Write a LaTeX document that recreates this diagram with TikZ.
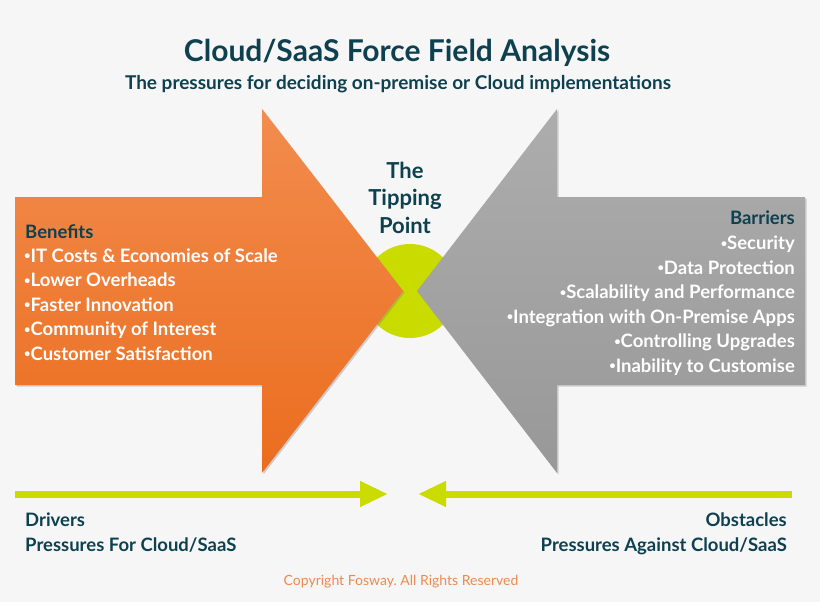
\documentclass[tikz,border=0pt]{standalone}
\usepackage{fontspec}
\usepackage{graphicx}
\setmainfont{Lato}
\usetikzlibrary{arrows.meta,shadows}
\definecolor{ffback}{HTML}{F6F6F6}
\definecolor{ffteal}{HTML}{0E4150}
\definecolor{fflime}{HTML}{CADB00}
\definecolor{fforangetop}{HTML}{F28C4E}
\definecolor{fforangebot}{HTML}{EB6D1E}
\definecolor{ffgreytop}{HTML}{ADADAD}
\definecolor{ffgreybot}{HTML}{989898}
\definecolor{ffcopy}{HTML}{F08A4B}
\newcommand{\ffbullet}{\raisebox{.12em}{\scalebox{.6}{•}}}

\begin{document}
\begin{tikzpicture}[x=1pt,y=-1pt,>=Latex,
  bigarrow/.style={drop shadow={shadow xshift=1.5pt,shadow yshift=-1.5pt,opacity=.35}},
  force/.style={line width=7pt,draw=fflime,-{Triangle[length=28pt,width=24pt]}},
  heading/.style={text=ffteal,font=\bfseries\fontsize{18.5}{24.5}\selectfont,inner sep=0pt},
  items/.style={text=white,font=\bfseries\fontsize{18.5}{24.5}\selectfont,inner sep=0pt}]
  \fill[ffback] (0,0) rectangle (820,602);
  \useasboundingbox (0,0) rectangle (820,602);

  \node[text=ffteal,font=\bfseries\fontsize{30}{36}\selectfont,anchor=base] (title) at (397,62)
    {Cloud/SaaS Force Field Analysis};
  \node[text=ffteal,font=\bfseries\fontsize{19}{23}\selectfont,anchor=base] (subtitle) at (398,90)
    {The pressures for deciding on-premise or Cloud implementations};

  \fill[fflime] (410,291) circle (47pt);
  \path[bigarrow,top color=fforangetop,bottom color=fforangebot]
    (15,197) -- (262,197) -- (262,109) -- (403,291) -- (262,473) -- (262,385) -- (15,385) -- cycle;
  \path[bigarrow,top color=ffgreytop,bottom color=ffgreybot]
    (805,197) -- (557,197) -- (557,109) -- (417,291) -- (557,473) -- (557,385) -- (805,385) -- cycle;

  \node[heading,align=center,font=\bfseries\fontsize{22}{27.5}\selectfont,anchor=base] (tipping) at (405,233)
    {The\\Tipping\\Point};

  \node[heading,anchor=base west] (benefits) at (25,238) {Benefits};
  \node[items,align=left,anchor=base west] (pros) at (24,360)
    {\ffbullet IT Costs \& Economies of Scale\\\ffbullet Lower Overheads\\\ffbullet Faster Innovation\\
     \ffbullet Community of Interest\\\ffbullet Customer Satisfaction};
  \node[heading,anchor=base east] (barriers) at (795,224) {Barriers};
  \node[items,align=right,anchor=base east] (cons) at (795,372)
    {\ffbullet Security\\\ffbullet Data Protection\\\ffbullet Scalability and Performance\\
     \ffbullet Integration with On-Premise Apps\\\ffbullet Controlling Upgrades\\\ffbullet Inability to Customise};

  \coordinate (drvA) at (15,494);
  \coordinate (drvB) at (388,494);
  \coordinate (obsA) at (792,494);
  \coordinate (obsB) at (418,494);
  \draw[force] (drvA) -- (drvB);
  \draw[force] (obsA) -- (obsB);

  \node[heading,align=left,anchor=base west] (drivers) at (25,551)
    {Drivers\\Pressures For Cloud/SaaS};
  \node[heading,align=right,anchor=base east] (obstacles) at (787,551)
    {Obstacles\\Pressures Against Cloud/SaaS};

  \node[text=ffcopy,font=\fontsize{14}{16}\selectfont,anchor=base] (copyright) at (401,585)
    {Copyright Fosway.\ All Rights Reserved};
\end{tikzpicture}
\end{document}
